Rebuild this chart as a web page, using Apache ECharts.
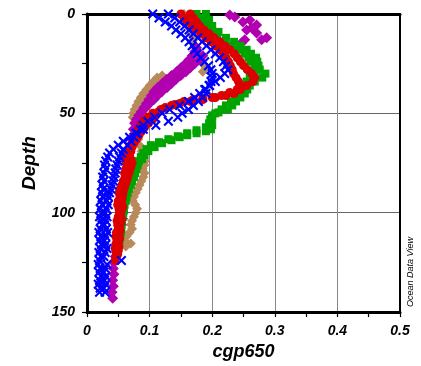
<!DOCTYPE html>
<html><head><meta charset="utf-8">
<script src="https://cdn.jsdelivr.net/npm/echarts@6/dist/echarts.min.js"></script>
<style>html,body{margin:0;padding:0;background:#fff}#c{width:421px;height:366px}</style>
</head><body><div id="c"></div>
<script>
// [cgp650, depth] pairs
const tanA = [[0.155,0],[0.158,2],[0.16,4],[0.163,7],[0.166,10],[0.17,13],[0.173,16],[0.176,19],[0.18,22],[0.185,25],[0.19,27],[0.185,29],[0.12,31],[0.116,33],[0.11,35],[0.104,37],[0.098,39],[0.094,41],[0.09,43],[0.086,45],[0.083,47],[0.08,49],[0.078,51],[0.077,54],[0.078,57],[0.08,60],[0.082,63],[0.084,66],[0.087,69],[0.09,72],[0.093,74],[0.092,76],[0.089,78],[0.092,80],[0.09,82],[0.087,84],[0.084,86],[0.081,88],[0.078,90],[0.075,92],[0.073,94],[0.077,96],[0.08,98],[0.078,100],[0.075,102],[0.072,104],[0.07,106],[0.072,108],[0.068,110],[0.063,112],[0.06,114],[0.07,115.5],[0.062,117]];
const tanB = [[0.112,32],[0.106,34],[0.1,36],[0.095,38],[0.09,40],[0.086,42],[0.082,44],[0.079,46],[0.076,48],[0.074,50],[0.073,52]];
const magentaA = [[0.228,0.5],[0.236,1.5],[0.26,3],[0.249,4],[0.271,5.5],[0.263,7],[0.255,8],[0.271,9.5],[0.287,12],[0.279,13],[0.252,13],[0.247,14.5],[0.175,17],[0.172,19],[0.168,21],[0.163,23],[0.157,25],[0.15,27],[0.143,29],[0.135,31],[0.127,33],[0.12,35],[0.113,37],[0.107,39],[0.103,41],[0.099,43],[0.095,45],[0.091,47],[0.087,49],[0.083,51],[0.079,53],[0.076,55],[0.074,58],[0.072,62],[0.07,66],[0.068,70],[0.066,75],[0.064,80],[0.062,85],[0.06,90],[0.059,95],[0.058,100],[0.057,103],[0.055,106],[0.052,110],[0.05,114],[0.047,118],[0.045,122],[0.043,125],[0.042,128],[0.043,131],[0.041,134],[0.042,137],[0.04,140],[0.041,143]];
const magentaB = [[0.185,21],[0.18,23],[0.172,25],[0.165,27],[0.158,29],[0.15,31],[0.142,33],[0.135,35],[0.128,37],[0.12,39],[0.113,41],[0.107,43],[0.1,45],[0.094,47],[0.088,49],[0.083,51]];
const greenA = [[0.175,0],[0.18,2],[0.185,4],[0.19,6],[0.195,8],[0.2,10],[0.208,12],[0.218,14],[0.23,16],[0.242,18],[0.252,20],[0.258,22],[0.262,24],[0.268,26],[0.276,28],[0.285,30],[0.28,32],[0.268,34],[0.26,36],[0.256,38],[0.252,40],[0.245,42],[0.238,44],[0.232,46],[0.225,48],[0.21,49.5],[0.2,51],[0.197,53],[0.195,55],[0.19,57],[0.175,58.5],[0.16,60],[0.145,61.5],[0.13,63],[0.115,64.5],[0.102,66],[0.095,68],[0.09,70],[0.086,72],[0.083,74],[0.081,76],[0.079,78],[0.077,80],[0.075,82],[0.072,84],[0.07,86],[0.067,88],[0.065,90],[0.063,92],[0.062,94],[0.06,96],[0.059,98],[0.058,100],[0.057,102],[0.056,104],[0.055,106],[0.055,108],[0.054,110],[0.053,112],[0.052,114],[0.05,116],[0.05,118]];
const greenB = [[0.19,0],[0.195,3],[0.2,6],[0.21,9],[0.222,12],[0.235,14],[0.245,16],[0.255,18],[0.262,20],[0.27,22],[0.272,24],[0.274,26],[0.27,28],[0.266,30],[0.26,32],[0.255,34],[0.25,36],[0.245,38],[0.24,40],[0.236,42],[0.23,44],[0.222,46],[0.215,48],[0.205,50],[0.2,52],[0.198,54],[0.2,56],[0.198,58],[0.19,59],[0.175,60],[0.16,61],[0.148,62],[0.135,63.5],[0.12,65],[0.108,67],[0.098,69],[0.092,71],[0.088,73]];
const redA = [[0.165,0],[0.17,2],[0.175,4],[0.18,6],[0.187,8],[0.195,10],[0.203,12],[0.212,14],[0.22,16],[0.228,18],[0.235,20],[0.24,22],[0.245,24],[0.25,26],[0.256,28],[0.263,30],[0.268,32],[0.265,34],[0.255,36],[0.245,38],[0.235,40],[0.222,41],[0.205,42],[0.185,43],[0.165,44],[0.148,45],[0.135,46],[0.118,48],[0.105,50],[0.097,52],[0.09,54],[0.086,56],[0.082,58],[0.079,60],[0.076,62],[0.073,64],[0.07,66],[0.068,68],[0.065,70],[0.063,72],[0.062,74],[0.064,76],[0.062,78],[0.06,80],[0.061,82],[0.058,84],[0.056,86],[0.053,88],[0.051,90],[0.053,92],[0.05,94],[0.049,96],[0.051,98],[0.052,100],[0.05,102],[0.048,104],[0.049,106],[0.05,108],[0.047,110],[0.046,112],[0.048,114],[0.046,116],[0.045,118],[0.047,120],[0.046,122],[0.045,124]];
const redB = [[0.15,0],[0.155,2],[0.16,4],[0.168,6],[0.175,8],[0.182,10],[0.19,12],[0.198,14],[0.205,16],[0.212,18],[0.218,20],[0.222,22],[0.226,24],[0.229,26],[0.232,28],[0.234,30],[0.238,32],[0.242,34],[0.244,36],[0.24,38],[0.228,39.5],[0.215,41],[0.2,42],[0.185,42.5],[0.17,43],[0.155,44],[0.14,45.5],[0.125,47],[0.115,49],[0.11,51],[0.105,53],[0.098,55],[0.092,57],[0.087,59],[0.083,61],[0.079,63],[0.075,65],[0.072,67],[0.07,69],[0.068,71],[0.07,73],[0.072,75],[0.07,77],[0.068,79],[0.066,81],[0.064,83],[0.062,85],[0.06,87],[0.058,89],[0.057,91],[0.056,93],[0.055,95],[0.057,97],[0.055,99],[0.053,101],[0.055,103],[0.054,105],[0.052,107],[0.053,109],[0.051,111],[0.052,113],[0.05,115],[0.051,117],[0.05,119],[0.049,121]];
const blueA = [[0.13,0],[0.14,2],[0.148,4],[0.156,6],[0.163,8],[0.17,10],[0.177,12],[0.184,14],[0.191,16],[0.198,18],[0.205,20],[0.212,22],[0.218,24],[0.222,26],[0.225,28],[0.22,30],[0.213,32],[0.205,34],[0.196,36],[0.188,38],[0.18,40],[0.172,42],[0.162,44],[0.148,46],[0.132,48],[0.12,50],[0.108,52],[0.097,54],[0.09,56],[0.085,58],[0.08,60],[0.075,62],[0.07,64],[0.065,66],[0.058,68],[0.055,70],[0.052,72],[0.05,74],[0.048,76],[0.046,78],[0.045,80],[0.043,82],[0.042,84],[0.04,86],[0.038,88],[0.036,90],[0.034,92],[0.032,94],[0.034,96],[0.031,98],[0.029,100],[0.032,102],[0.03,104],[0.028,106],[0.031,108],[0.033,110],[0.03,112],[0.028,114],[0.03,116],[0.032,118],[0.029,120],[0.027,122],[0.055,124],[0.032,126],[0.029,128],[0.027,130],[0.03,132],[0.028,134],[0.03,136],[0.027,138],[0.029,140]];
const blueB = [[0.105,0],[0.115,2],[0.125,4],[0.135,6],[0.142,8],[0.15,10],[0.157,12],[0.163,14],[0.168,16],[0.172,18],[0.176,20],[0.182,22],[0.188,24],[0.194,26],[0.198,28],[0.2,30],[0.2,32],[0.198,34],[0.195,36],[0.19,38],[0.19,40],[0.185,42],[0.178,44],[0.17,46],[0.162,48],[0.152,50],[0.145,52],[0.13,54],[0.11,56],[0.09,58],[0.078,60],[0.068,62],[0.058,64],[0.05,66],[0.042,68],[0.036,70],[0.033,72],[0.03,74],[0.028,76],[0.03,78],[0.027,80],[0.025,82],[0.027,84],[0.024,86],[0.026,88],[0.023,90],[0.025,92],[0.022,94],[0.024,96],[0.021,98],[0.023,100],[0.02,102],[0.022,104],[0.024,106],[0.021,108],[0.019,110],[0.022,112],[0.02,114],[0.023,116],[0.021,118],[0.019,120],[0.022,122],[0.02,124],[0.018,126],[0.021,128],[0.019,130],[0.022,132],[0.02,134],[0.018,136],[0.021,138],[0.02,140]];

const xTickLabels = ['0','0.1','0.2','0.3','0.4','0.5'];
const yTickLabels = ['0','50','100','150'];

const crossPath = 'path://M0,1.5L1.5,0L5,3.5L8.5,0L10,1.5L6.5,5L10,8.5L8.5,10L5,6.5L1.5,10L0,8.5L3.5,5Z';
const labelFont = {fontFamily:'Liberation Sans', fontWeight:'bold', fontStyle:'italic', color:'#000'};

const chart = echarts.init(document.getElementById('c'), null, {renderer:'canvas'});
chart.setOption({
  animation:false,
  backgroundColor:'#fff',
  grid:{left:87, top:14, width:313, height:300},
  xAxis:[{
    type:'value', min:0, max:0.5, interval:0.1, position:'bottom',
    axisLine:{show:true, onZero:false, lineStyle:{color:'#000', width:3}},
    axisTick:{show:true, length:5, lineStyle:{color:'#000', width:1.2}},
    minorTick:{show:true, splitNumber:2, length:5, lineStyle:{color:'#000', width:1.2}},
    splitLine:{show:true, lineStyle:{color:'#888', width:1}},
    axisLabel:Object.assign({fontSize:14, margin:12, formatter:v=>xTickLabels[Math.round(v*10)]}, labelFont),
    name:'cgp650', nameLocation:'middle', nameGap:30,
    nameTextStyle:Object.assign({fontSize:18}, labelFont)
  },{
    type:'value', min:0, max:0.5, position:'top',
    axisLine:{show:true, onZero:false, lineStyle:{color:'#000', width:3}},
    axisTick:{show:false}, axisLabel:{show:false}, splitLine:{show:false}
  }],
  yAxis:[{
    type:'value', min:0, max:150, interval:50, inverse:true, position:'left',
    axisLine:{show:true, onZero:false, lineStyle:{color:'#000', width:3}},
    axisTick:{show:true, length:5, lineStyle:{color:'#000', width:1.2}},
    minorTick:{show:true, splitNumber:2, length:5, lineStyle:{color:'#000', width:1.2}},
    splitLine:{show:true, lineStyle:{color:'#666', width:1}},
    axisLabel:Object.assign({fontSize:14, margin:12, formatter:v=>yTickLabels[Math.round(v/50)]}, labelFont),
    name:'Depth', nameLocation:'middle', nameGap:48, nameRotate:90,
    nameTextStyle:Object.assign({fontSize:19}, labelFont)
  },{
    type:'value', min:0, max:150, inverse:true, position:'right',
    axisLine:{show:true, onZero:false, lineStyle:{color:'#000', width:2}},
    axisTick:{show:false}, axisLabel:{show:false}, splitLine:{show:false}
  }],
  graphic:[{
    type:'text', x:410, y:272, rotation:Math.PI/2,
    style:{text:'Ocean Data View', font:'italic 9px "Liberation Sans"', fill:'#000', align:'center', verticalAlign:'middle'}
  }],
  series:[
    {type:'scatter', symbol:'diamond', symbolSize:10, itemStyle:{color:'#b98a5a', opacity:1}, data:tanA.concat(tanB)},
    {type:'scatter', symbol:'diamond', symbolSize:11, itemStyle:{color:'#b000b0', opacity:1}, data:magentaA.concat(magentaB)},
    {type:'scatter', symbol:'rect', symbolSize:8, itemStyle:{color:'#00a400', opacity:1}, data:greenA.concat(greenB)},
    {type:'scatter', symbol:'circle', symbolSize:9, itemStyle:{color:'#dc0000', opacity:1}, data:redA.concat(redB)},
    {type:'scatter', symbol:crossPath, symbolSize:10, itemStyle:{color:'#0000ff', opacity:1}, data:blueA.concat(blueB)}
  ]
});
</script></body></html>
